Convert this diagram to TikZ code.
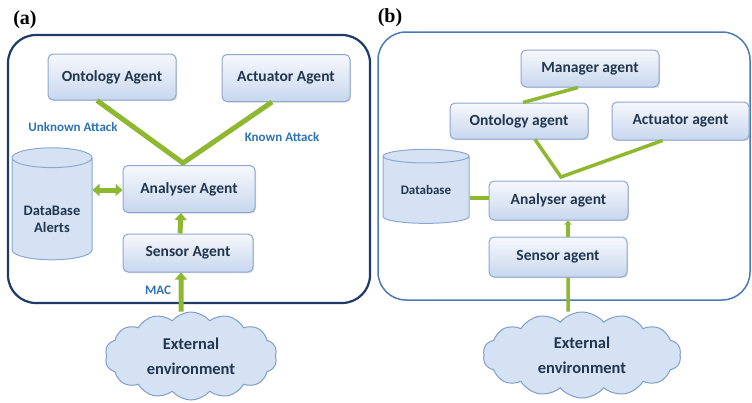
\documentclass[tikz,border=0pt]{standalone}
\usepackage{fontspec}
\setmainfont{Carlito}
\newfontfamily\panelfont{Liberation Serif}
\usetikzlibrary{shapes.geometric,shapes.symbols,arrows.meta,shadows}

\definecolor{agentText}{HTML}{22364E}
\definecolor{agentBorder}{HTML}{8DA7D0}
\definecolor{boxTop}{HTML}{F6F8FC}
\definecolor{boxBottom}{HTML}{C8D7EE}
\definecolor{linkGreen}{HTML}{8DB830}
\definecolor{attackBlue}{HTML}{2F73B7}
\definecolor{frameA}{HTML}{1F3A66}
\definecolor{frameB}{HTML}{4C78B6}
\definecolor{cloudFill}{HTML}{D5E2F4}
\definecolor{cloudLine}{HTML}{7F9DCB}

\tikzset{
  agent/.style={draw=agentBorder, line width=1pt, rounded corners=5pt,
    top color=boxTop, bottom color=boxBottom, text=agentText, inner sep=0pt,
    font=\bfseries\fontsize{15.5}{18}\selectfont,
    drop shadow={opacity=0.25, shadow xshift=1.2pt, shadow yshift=-1.2pt}},
  store/.style={shape=cylinder, shape border rotate=90, draw=agentBorder,
    line width=1pt, fill=cloudFill, text=agentText, inner sep=0pt, align=center},
  env/.style={shape=cloud, cloud puffs=14, cloud puff arc=100, aspect=2.3,
    draw=cloudLine, line width=1pt, fill=cloudFill, text=agentText,
    align=center, inner sep=0pt,
    font=\bfseries\fontsize{16.5}{25}\selectfont},
  link/.style={draw=linkGreen, line width=5pt},
  thinlink/.style={draw=linkGreen, line width=3.5pt},
  flow/.style={link, -{Triangle[length=7pt,width=12pt]}},
  attack/.style={text=attackBlue, font=\bfseries\fontsize{13}{15}\selectfont},
  frame/.style={rounded corners=28pt},
}

\begin{document}
\begin{tikzpicture}[x=1pt,y=-1pt]
  \useasboundingbox (0,0) rectangle (752,402);

  % panel (a)
  \node[font=\panelfont\bfseries\fontsize{20}{22}\selectfont] (labA) at (25,20) {(a)};
  \draw[frame, frameA, line width=2.2pt] (8,35) rectangle (370,303);

  \node[agent, minimum width=128pt, minimum height=46pt] (ontA) at (112,77) {Ontology Agent};
  \node[agent, minimum width=128pt, minimum height=47pt] (actA) at (286,78) {Actuator Agent};
  \node[agent, minimum width=132pt, minimum height=47pt] (anaA) at (189,189) {Analyser Agent};
  \node[agent, minimum width=130pt, minimum height=38pt] (senA) at (188,253) {Sensor Agent};
  \node[store, aspect=0.35, minimum width=80pt, minimum height=112pt,
        font=\bfseries\fontsize{14.5}{17}\selectfont] (dbA) at (52,209) {\\[14pt]DataBase\\Alerts};
  \node[env, minimum width=172pt, minimum height=88pt] (envA) at (191,356) {External\\environment};

  \coordinate (junA) at (183,163);
  \draw[link] ([xshift=-15pt]ontA.south) -- (junA) -- ([xshift=-14pt]actA.south);
  \draw[flow, {Triangle[length=7pt,width=12pt]}-{Triangle[length=7pt,width=12pt]}] (dbA.east |- 0,190) -- (anaA.west |- 0,190);
  \draw[flow] ([xshift=-8pt]senA.north) -- ([xshift=-8pt]anaA.south);
  \draw[flow] ([xshift=-10pt]envA.north) -- ([xshift=-7pt]senA.south);

  \node[attack] (unk) at (73,127) {Unknown Attack};
  \node[attack] (knw) at (282,137) {Known Attack};
  \node[attack] (mac) at (158,290) {MAC};

  % panel (b)
  \node[font=\panelfont\bfseries\fontsize{20}{22}\selectfont] (labB) at (390,18) {(b)};
  \draw[frame, frameB, line width=1.5pt] (378,32) rectangle (750,300);

  \node[agent, minimum width=138pt, minimum height=37pt] (manB) at (590,68.5) {Manager agent};
  \node[agent, minimum width=138pt, minimum height=36pt] (ontB) at (519,121) {Ontology agent};
  \node[agent, minimum width=137pt, minimum height=38pt] (actB) at (680.5,121) {Actuator agent};
  \node[agent, minimum width=139pt, minimum height=39pt] (anaB) at (558.5,200.5) {Analyser agent};
  \node[agent, minimum width=138pt, minimum height=40pt] (senB) at (558,257) {Sensor agent};
  \node[store, aspect=0.27, minimum width=86pt, minimum height=74pt,
        font=\bfseries\fontsize{13}{15}\selectfont] (dbB) at (426,190) {Database};
  \node[env, minimum width=198pt, minimum height=86pt] (envB) at (582,355) {External\\environment};

  \coordinate (junB) at (561,177);
  \draw[thinlink] ([xshift=4pt]ontB.north) -- ([xshift=-12pt]manB.south);
  \draw[thinlink] ([xshift=16pt]ontB.south) -- (junB) -- ([xshift=-18pt]actB.south);
  \draw[thinlink] (dbB.east |- 0,198) -- (anaB.west |- 0,198);
  \draw[thinlink, -{Triangle[length=4pt,width=7pt]}] ([xshift=10pt]senB.north) -- ([xshift=9.5pt]anaB.south);
  \draw[thinlink] ([xshift=-14pt]envB.north) -- ([xshift=10pt]senB.south);
\end{tikzpicture}
\end{document}
